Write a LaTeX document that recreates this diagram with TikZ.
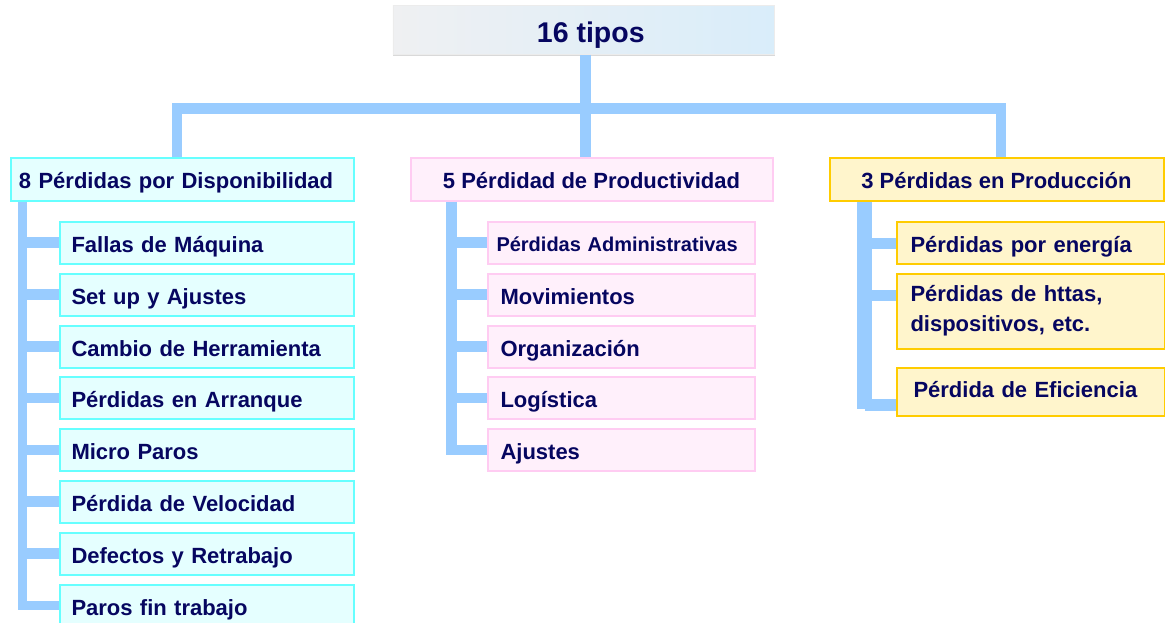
\documentclass[tikz,border=0pt]{standalone}
\usepackage{fontspec}
\setmainfont{Liberation Sans}
\definecolor{navy}{HTML}{060660}
\definecolor{barc}{HTML}{99CCFF}
\definecolor{cyanfill}{HTML}{E5FFFF}
\definecolor{cyanline}{HTML}{66FFFF}
\definecolor{pinkfill}{HTML}{FFF0FB}
\definecolor{pinkline}{HTML}{FFCCF2}
\definecolor{yelfill}{HTML}{FFF5CC}
\definecolor{yelline}{HTML}{FFCC00}
\definecolor{topl}{HTML}{EFF0F2}
\definecolor{topr}{HTML}{D9EDFA}
\tikzset{
  bar/.style={draw=barc, line width=10.5pt, line join=miter, line cap=butt},
  widebar/.style={bar, line width=15pt},
  txt/.style={text=navy, font=\fontsize{22}{30}\selectfont\bfseries, inner ysep=0pt,
              text height=21pt, text depth=2pt},
  box/.style={txt, line width=2pt, anchor=north west, minimum height=42pt},
  cbox/.style={box, draw=cyanline, fill=cyanfill},
  pbox/.style={box, draw=pinkline, fill=pinkfill},
  ybox/.style={box, draw=yelline, fill=yelfill},
  lchild/.style={cbox, align=left, text width=270pt, inner xsep=12pt},
  mchild/.style={pbox, align=left, text width=241pt, inner xsep=13pt},
  rchild/.style={ybox, align=left, text width=240pt, inner xsep=14pt},
}
\begin{document}
\begin{tikzpicture}[x=1pt, y=-1pt]
\useasboundingbox (0,0) rectangle (1165,623);
% junction coordinates
\coordinate (jL) at (177,108.5);
\coordinate (jC) at (585.5,108.5);
\coordinate (jR) at (1001,108.5);
\coordinate (tL) at (22.5,0);
\coordinate (tM) at (451.5,0);
\coordinate (tR) at (864.5,0);
\coordinate (rb) at (864.5,409);

% top
\fill[gray!30] (393,52) rectangle (775,56);
\node[txt, font=\fontsize{28.5}{30}\selectfont\bfseries, text height=28pt, text depth=2pt,
      left color=topl, right color=topr, draw=gray!15, line width=0.6pt,
      minimum width=381pt, minimum height=49pt, anchor=north west] (top) at (392.5,5) {\hspace*{15pt}16 tipos};

% headers
\node[cbox, minimum width=343pt, align=left, text width=327pt, inner xsep=8pt] (h1) at (10,157.5) {8 Pérdidas por Disponibilidad};
\node[pbox, minimum width=362pt] (h2) at (409.5,157.5) {5 Pérdidad de Productividad};
\node[ybox, minimum width=334pt] (h3) at (828.5,157.5) {3 Pérdidas en Producción};

% main bars
\draw[bar] (top.south -| jC) -- (h2.north -| jC);
\draw[bar] (h1.north -| jL) -- (jL) -- (jR) -- (h3.north -| jR);

% left children
\node[lchild] (c1) at (58.5,220.5) {Fallas de Máquina};
\node[lchild] (c2) at (58.5,272.5) {Set up y Ajustes};
\node[lchild] (c3) at (58.5,324.5) {Cambio de Herramienta};
\node[lchild] (c4) at (58.5,376) {Pérdidas en Arranque};
\node[lchild] (c5) at (58.5,428) {Micro Paros};
\node[lchild] (c6) at (58.5,479.5) {Pérdida de Velocidad};
\node[lchild] (c7) at (58.5,531.5) {Defectos y Retrabajo};
\node[lchild] (c8) at (58.5,583.5) {Paros fin trabajo};

% middle children
\node[mchild, inner xsep=9pt, text width=249pt, font=\fontsize{20}{24}\selectfont\bfseries, text height=20pt] (m1) at (486.5,220.5) {Pérdidas Administrativas};
\node[mchild] (m2) at (486.5,272.5) {Movimientos};
\node[mchild] (m3) at (486.5,324.5) {Organización};
\node[mchild] (m4) at (486.5,376) {Logística};
\node[mchild] (m5) at (486.5,428) {Ajustes};

% right children
\node[ybox, align=left, text width=240pt, inner xsep=14pt, minimum height=75pt,
      text height=, text depth=] (r2) at (895.5,272.5) {Pérdidas de httas,\\dispositivos, etc.};
\node[rchild] (r1) at (895.5,220.5) {Pérdidas por energía};
\node[rchild, inner xsep=17pt, text width=234pt, minimum height=48pt, text height=16pt, text depth=5pt] (r3) at (895.5,367) {Pérdida de Eficiencia};

% left trunk and branches
\draw[bar, line width=9.5pt] (h1.south -| tL) |- (c8.west);
\foreach \n in {c1,c2,c3,c4,c5,c6,c7}
  \draw[bar] (\n.west) -- (\n.west -| tL);

% middle trunk and branches
\draw[bar] (h2.south -| tM) |- (m5.west);
\foreach \n in {m1,m2,m3,m4}
  \draw[bar] (\n.west) -- (\n.west -| tM);

% right trunk and branches
\coordinate (rb1) at ([yshift=-1pt]r1.west);
\coordinate (rb2) at ([yshift=-23pt]r2.north west);
\coordinate (rb3) at ([yshift=12pt]r3.south west);
\draw[widebar] (h3.south -| tR) -- (rb);
\draw[bar] (rb1) -- (rb1 -| tR);
\draw[bar] (rb2) -- (rb2 -| tR);
\draw[bar, line width=12pt] (rb3) -- (rb3 -| tR);
\end{tikzpicture}
\end{document}
